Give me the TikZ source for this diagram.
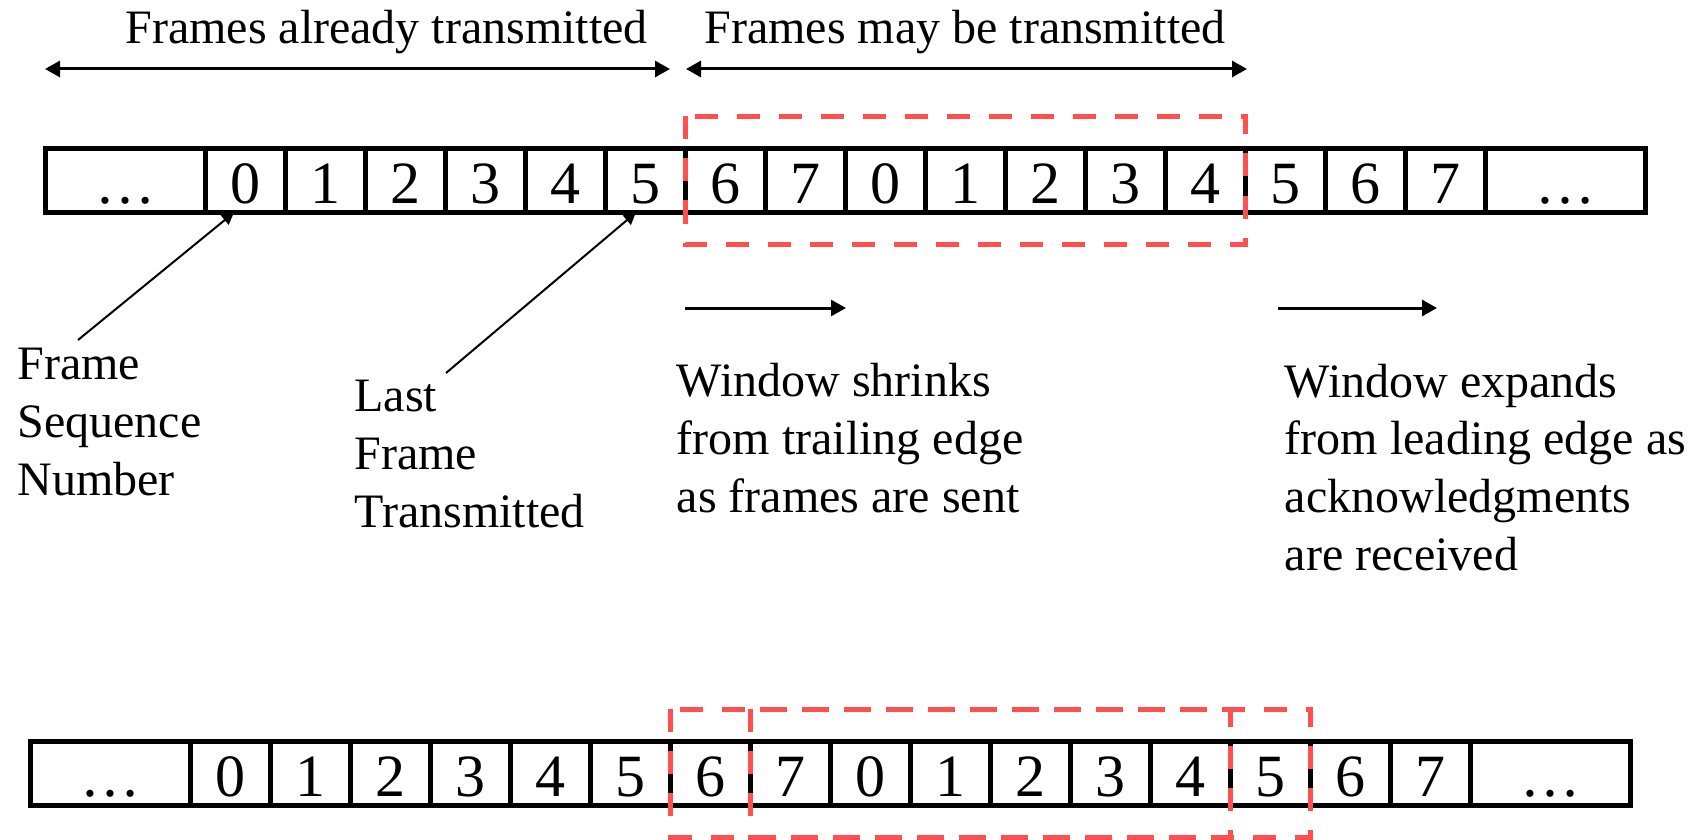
\documentclass[tikz,border=0pt]{standalone}
\usepackage{fontspec}
\setmainfont{Liberation Serif}
\usetikzlibrary{arrows.meta,positioning}
\definecolor{winred}{RGB}{255,80,80}

\begin{document}
\begin{tikzpicture}[
  x=0.5pt, y=-0.5pt,
  font=\fontsize{24}{28.8}\selectfont,
  cell/.style={draw, line width=2.5pt, inner sep=0pt, outer sep=0pt,
               minimum width=40pt, minimum height=32pt,
               text height=23pt, text depth=0pt,
               font=\fontsize{30}{36}\selectfont},
  dotcell/.style={cell, minimum width=80pt},
  window/.style={draw=winred, line width=2.5pt,
                 dash pattern=on 11.5pt off 9.5pt},
  note/.style={anchor=base west, align=left, inner sep=0pt},
  span/.style={<->, line width=1.5pt},
  point/.style={->, line width=1pt, >={Triangle[length=6pt, width=6pt]}},
  >={Triangle[length=7.5pt, width=8pt]}]
\useasboundingbox (0,0) rectangle (1693,840);

% frames before sending
\node[dotcell] (t0) at (125.5,180.5) {…};
\foreach \d [count=\i] in {0,1,2,3,4,5,6,7,0,1,2,3,4,5,6,7} {
  \pgfmathtruncatemacro\j{\i-1}
  \node[cell, right=0pt of t\j] (t\i) {\d};
}
\node[dotcell, right=0pt of t16] (t17) {…};
\draw[window] ([yshift=16pt]t7.north west) rectangle ([yshift=-16pt]t13.south east);

% what is sent and what may be sent
\coordinate (doneL) at (45,69);
\coordinate (doneR) at (670,69);
\coordinate (mayL) at (686,69);
\coordinate (mayR) at (1247,69);
\draw[span] (doneL) -- (doneR);
\draw[span] (mayL) -- (mayR);
\node[anchor=base west, inner sep=0pt] (done) at (125,44) {Frames already transmitted};
\node[anchor=base west, inner sep=0pt] (may) at (704,44) {Frames may be transmitted};

% callouts (base = last line)
\node[note] (seq) at (17,495) {Frame\\Sequence\\Number};
\node[note] (last) at (354,527) {Last\\Frame\\Transmitted};
\coordinate (seqtail) at (78,340);
\coordinate (lasttail) at (446,373);
\draw[point] (seqtail) -- ([xshift=-5.75pt]t1.south);
\draw[point] (lasttail) -- ([xshift=-4.75pt]t6.south);

% window edges
\coordinate (shrinkA) at (685,308);
\coordinate (shrinkB) at (846,308);
\coordinate (growA) at (1278,308);
\coordinate (growB) at (1437,308);
\draw[->, line width=1.5pt] (shrinkA) -- (shrinkB);
\draw[->, line width=1.5pt] (growA) -- (growB);
\node[note] (shrink) at (676.5,512) {Window shrinks\\from trailing edge\\as frames are sent};
\node[note] (grow) at (1284.5,570) {Window expands\\from leading edge as\\acknowledgments\\are received};

% frames after sending one and getting one ack
\node[dotcell] (b0) at (110.5,773) {…};
\foreach \d [count=\i] in {0,1,2,3,4,5,6,7,0,1,2,3,4,5,6,7} {
  \pgfmathtruncatemacro\j{\i-1}
  \node[cell, right=0pt of b\j] (b\i) {\d};
}
\node[dotcell, right=0pt of b16] (b17) {…};
\draw[window] ([yshift=16pt]b7.north west) rectangle ([yshift=-16pt]b13.south east);
\draw[window] ([yshift=16pt]b8.north west) rectangle ([yshift=-16pt]b14.south east);
\end{tikzpicture}
\end{document}
